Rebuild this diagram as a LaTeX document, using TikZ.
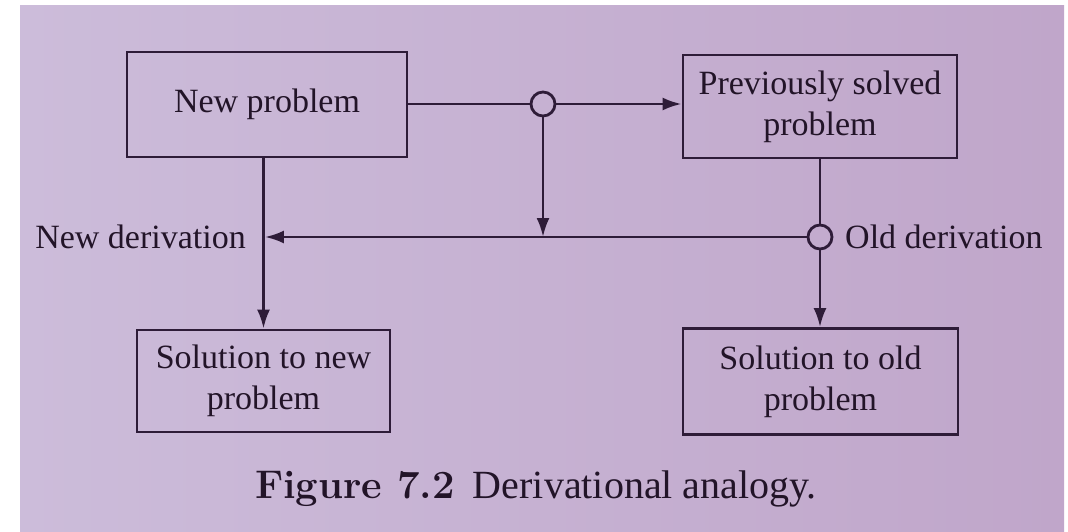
\documentclass[tikz,border=0pt]{standalone}
\usepackage{fontspec}
\newfontfamily\bookfont{Liberation Serif}
\usetikzlibrary{arrows.meta}
\definecolor{pageL}{RGB}{204,188,218}
\definecolor{pageM}{RGB}{184,156,190}
\definecolor{pageR}{RGB}{192,166,202}
\definecolor{inkc}{RGB}{46,28,56}
\definecolor{txtc}{RGB}{34,20,40}
\begin{document}
\begin{tikzpicture}[x=1pt,y=-1pt,
  ink/.style={draw=inkc, line width=2.8pt},
  box/.style={ink, rectangle, inner sep=0pt, align=center, text=txtc,
    font=\bookfont\fontsize{34}{41}\selectfont},
  junction/.style={ink, circle, minimum size=24pt, inner sep=0pt},
  flow/.style={ink, -{Latex[length=19pt,width=13pt]}},
  lbl/.style={inner sep=0pt, text=txtc, font=\bookfont\fontsize{34}{41}\selectfont}]
% page and margins
\useasboundingbox (0,0) rectangle (1068,532);
\fill[white] (0,0) rectangle (1068,532);
\shade[left color=pageL, middle color=pageM, right color=pageR] (20,6) rectangle (1064,532);

% boxes
\node[box, minimum width=280pt, minimum height=105pt] (np) at (267,104.5) {\raisebox{-3pt}{New problem}};
\node[box, minimum width=274pt, minimum height=103pt] (ps) at (820,106.5) {Previously solved\\problem};
\node[box, minimum width=253pt, minimum height=102pt] (sn) at (263.5,381) {\raisebox{-4pt}{Solution to new}\\\raisebox{-4pt}{problem}};
\node[box, minimum width=275pt, minimum height=106pt] (so) at (820.5,381.5) {Solution to old\\problem};

% junctions
\node[junction] (c1) at (543,104) {};
\node[junction] (c2) at (820,237) {};

% labels
\node[lbl, anchor=base east] (nd) at (246,248) {New derivation};
\node[lbl, anchor=base west] (od) at (845,248) {Old derivation};

% connectors
\draw[ink] (np.east |- c1) -- (c1.west);
\draw[flow] (c1.east) -- (c1.east -| ps.west);
\draw[flow] (c1.south) -- (c1 |- c2);
\draw[ink] (ps.south -| c2) -- (c2.north);
\draw[flow] (c2.south) -- (so.north -| c2);
\draw[flow, shorten >=1.4pt] (c2.west) -- (c2 -| sn.north);
\draw[flow] (np.south -| sn.north) -- (sn.north);

% caption
\node[inner sep=0pt, text=txtc] (cap) at (536,489)
  {\fontsize{40}{48}\selectfont\bfseries Figure 7.2\hspace{0.45em}\mdseries\bookfont Derivational analogy.};
\end{tikzpicture}
\end{document}
